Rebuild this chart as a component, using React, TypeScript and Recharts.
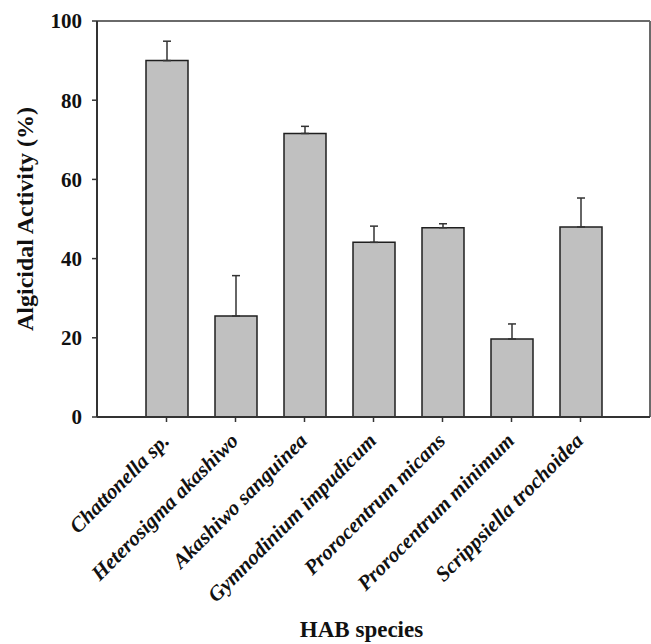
import React from 'react';
import { BarChart, Bar, XAxis, YAxis, ErrorBar } from 'recharts';

const species = [
  'Chattonella sp.',
  'Heterosigma akashiwo',
  'Akashiwo sanguinea',
  'Gymnodinium impudicum',
  'Prorocentrum micans',
  'Prorocentrum minimum',
  'Scrippsiella trochoidea',
];
const activity = [90.0, 25.5, 71.6, 44.1, 47.8, 19.7, 48.0];
const errorUp = [4.9, 10.2, 1.8, 4.1, 1.0, 3.8, 7.3];
const yTicks = [0, 20, 40, 60, 80, 100];

const data = species.map((name, i) => ({
  name,
  value: activity[i],
  err: [0, errorUp[i]],
}));

const FONT = '"Liberation Serif", "Times New Roman", serif';

const XTick = (props: any) => {
  const { x, y, payload } = props;
  const ax = x + 4;
  const ay = y + 18;
  return (
    <text
      x={ax}
      y={ay}
      transform={`rotate(-45, ${ax}, ${ay})`}
      textAnchor="end"
      fontFamily={FONT}
      fontWeight="bold"
      fontStyle="italic"
      fontSize={21}
      fill="#111"
    >
      {payload.value}
    </text>
  );
};

const XLabel = (props: any) => {
  const vb = props.viewBox || {};
  const cx = vb.x + vb.width / 2 - 12;
  return (
    <text
      x={cx}
      y={637}
      textAnchor="middle"
      fontFamily={FONT}
      fontWeight="bold"
      fontSize={23}
      fill="#111"
    >
      HAB species
    </text>
  );
};

const YLabel = (props: any) => {
  const vb = props.viewBox || {};
  const cy = vb.y + vb.height / 2;
  return (
    <text
      x={33}
      y={cy}
      transform={`rotate(-90, 33, ${cy})`}
      textAnchor="middle"
      fontFamily={FONT}
      fontWeight="bold"
      fontSize={24}
      fill="#111"
    >
      Algicidal Activity (%)
    </text>
  );
};

export default function App() {
  return (
    <div style={{ position: 'absolute', left: 0, top: 0, background: '#fff' }}>
      <BarChart
        width={651}
        height={644}
        data={data}
        margin={{ top: 20, right: 0, bottom: 0, left: 0 }}
        barSize={42}
      >
        <XAxis
          xAxisId="top"
          orientation="top"
          dataKey="name"
          height={1}
          tick={false}
          tickLine={false}
          axisLine={{ stroke: '#6a6a6a', strokeWidth: 2 }}
        />
        <YAxis
          yAxisId="right"
          orientation="right"
          width={1}
          domain={[0, 100]}
          tick={false}
          tickLine={false}
          axisLine={{ stroke: '#6a6a6a', strokeWidth: 2 }}
        />
        <XAxis
          dataKey="name"
          height={227}
          padding={{ left: 35, right: 35 }}
          tick={<XTick />}
          tickSize={5}
          tickMargin={2}
          interval={0}
          axisLine={{ stroke: '#333', strokeWidth: 2 }}
          tickLine={{ stroke: '#333', strokeWidth: 1.5 }}
          label={<XLabel />}
        />
        <YAxis
          width={97}
          domain={[0, 100]}
          ticks={yTicks}
          interval={0}
          tickSize={5}
          tickMargin={10}
          axisLine={{ stroke: '#333', strokeWidth: 2 }}
          tickLine={{ stroke: '#333', strokeWidth: 1.5 }}
          tick={{ fontFamily: FONT, fontWeight: 'bold', fontSize: 21, fill: '#111' }}
          label={<YLabel />}
        />
        <Bar
          dataKey="value"
          fill="#c0c0c0"
          stroke="#1f1f1f"
          strokeWidth={1.5}
          isAnimationActive={false}
        >
          <ErrorBar
            dataKey="err"
            width={4}
            stroke="#333"
            strokeWidth={1.5}
            direction="y"
          />
        </Bar>
      </BarChart>
    </div>
  );
}
